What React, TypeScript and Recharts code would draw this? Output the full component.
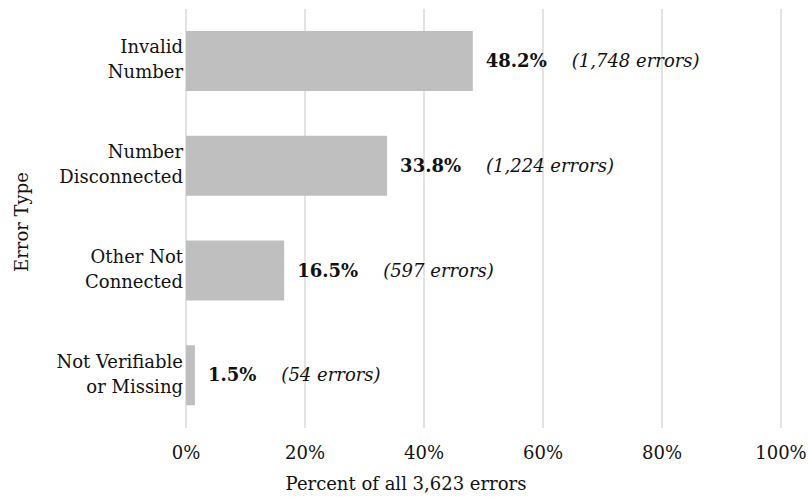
import React from 'react';
import { BarChart, Bar, XAxis, YAxis, CartesianGrid, LabelList, Label } from 'recharts';

const categories = [
  ['Invalid', 'Number'],
  ['Number', 'Disconnected'],
  ['Other Not', 'Connected'],
  ['Not Verifiable', 'or Missing'],
];
const percents = [48.2, 33.8, 16.5, 1.5];
const errorCounts = ['1,748', '1,224', '597', '54'];
const xTicks = [0, 20, 40, 60, 80, 100];

const FONT = '"DejaVu Serif", serif';
const FS = 18;

const rows = categories.map((lines, i) => ({
  name: lines.join(' '),
  pct: percents[i],
  idx: i,
}));

const CategoryTick = (props: any) => {
  const { x, y, payload } = props;
  const lines = categories[payload.index] ?? [payload.value];
  return (
    <g>
      {lines.map((ln: string, k: number) => (
        <text
          key={k}
          x={x - 3}
          y={y - 8 + k * 25}
          textAnchor="end"
          fontFamily={FONT}
          fontSize={FS}
          fill="#111"
        >
          {ln}
        </text>
      ))}
    </g>
  );
};

const BarValueLabel = (props: any) => {
  const { x, y, width, height, value } = props;
  const i = value as number;
  return (
    <text
      x={x + width + 13}
      y={y + height / 2 + 6}
      fontFamily={FONT}
      fontSize={FS}
      fill="#111"
    >
      <tspan fontWeight="bold">{percents[i].toFixed(1)}%</tspan>
      <tspan dx={25} fontStyle="italic">
        ({errorCounts[i]} errors)
      </tspan>
    </text>
  );
};

const XTitle = () => (
  <text x={406} y={490} textAnchor="middle" fontFamily={FONT} fontSize={FS} fill="#111">
    Percent of all 3,623 errors
  </text>
);

const YTitle = () => (
  <text
    x={28}
    y={222}
    textAnchor="middle"
    transform="rotate(-90, 28, 222)"
    fontFamily={FONT}
    fontSize={FS}
    fill="#111"
  >
    Error Type
  </text>
);

export default function App() {
  return (
    <div style={{ position: 'absolute', left: 0, top: 0, width: 808, height: 497, background: '#fff' }}>
      <BarChart
        layout="vertical"
        width={808}
        height={497}
        data={rows}
        margin={{ top: 9, right: 27, bottom: 9, left: 0 }}
      >
        <CartesianGrid horizontal={false} stroke="#e3e3e3" strokeWidth={2} />
        <XAxis
          type="number"
          domain={[0, 100]}
          ticks={xTicks}
          tickFormatter={(v: number) => `${v}%`}
          axisLine={false}
          tickLine={false}
          tickSize={0}
          tickMargin={18}
          height={60}
          tick={{ fontFamily: FONT, fontSize: FS, fill: '#111' }}
        >
          <Label content={<XTitle />} />
        </XAxis>
        <YAxis
          type="category"
          dataKey="name"
          width={186}
          axisLine={false}
          tickLine={false}
          tickSize={0}
          tickMargin={0}
          tick={<CategoryTick />}
        >
          <Label content={<YTitle />} />
        </YAxis>
        <Bar dataKey="pct" fill="#bfbfbf" barSize={60} isAnimationActive={false}>
          <LabelList dataKey="idx" content={<BarValueLabel />} />
        </Bar>
      </BarChart>
    </div>
  );
}
